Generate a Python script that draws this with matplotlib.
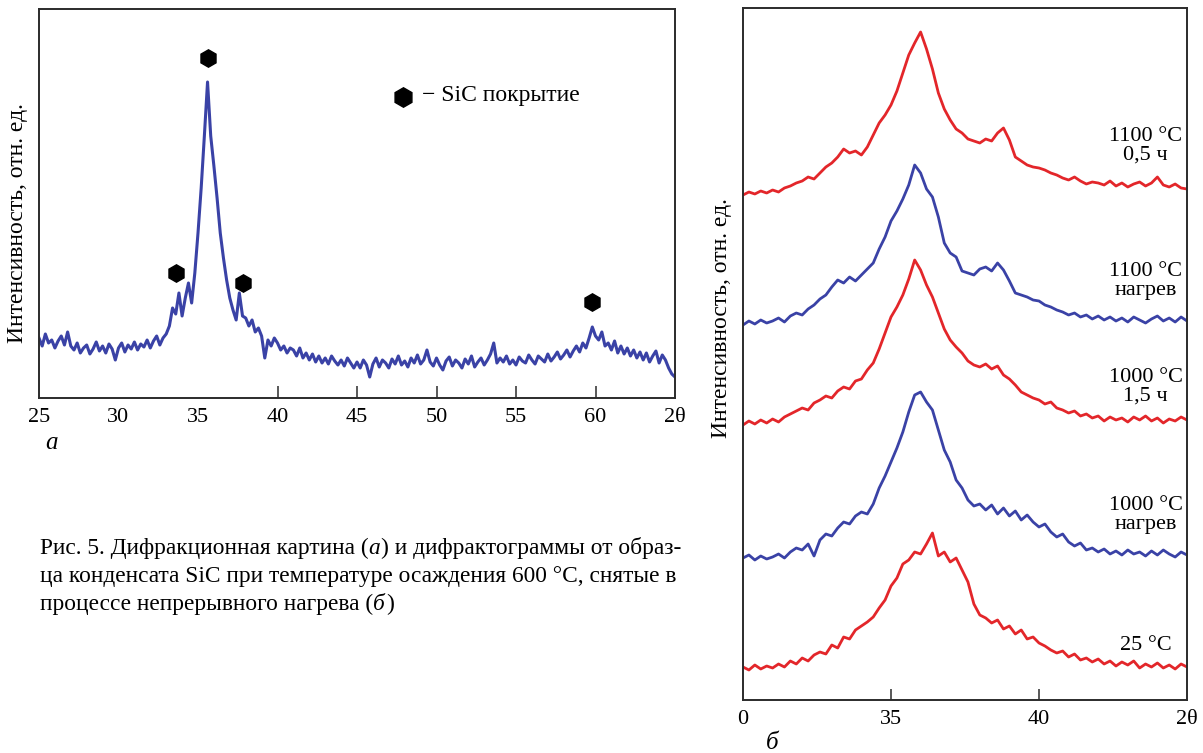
import numpy as np
import matplotlib
matplotlib.use("Agg")
import matplotlib.pyplot as plt

# ---------------- data: panel (a) ----------------
a_x_start, a_x_step = 25.0, 0.2
a_intensity = [
    60, 52, 64, 55, 58,
    50, 57, 62, 53, 66,
    52, 48, 55, 45, 50,
    53, 44, 49, 56, 47,
    52, 45, 54, 49, 38,
    50, 55, 46, 53, 49,
    56, 48, 54, 51, 58,
    50, 57, 62, 53, 60,
    64, 72, 90, 84, 105,
    82, 100, 115, 95, 125,
    165, 210, 262, 316, 262,
    232, 200, 165, 140, 118,
    100, 88, 78, 105, 82,
    80, 72, 78, 66, 70,
    62, 40, 58, 52, 60,
    55, 48, 52, 45, 50,
    48, 42, 50, 40, 45,
    38, 44, 36, 42, 35,
    40, 34, 42, 37, 33,
    38, 32, 40, 35, 30,
    36, 30, 38, 33, 21,
    34, 40, 31, 38, 35,
    30, 39, 34, 42, 33,
    37, 31, 40, 35, 43,
    34, 38, 48, 36, 32,
    40, 33, 28, 37, 41,
    32, 38, 35, 30, 39,
    34, 42, 31, 36, 40,
    33, 38, 44, 55, 35,
    40, 36, 42, 34, 38,
    33, 41, 37, 35, 43,
    38, 34, 42, 39, 36,
    44, 37, 41, 46, 39,
    43, 48, 41, 47, 52,
    46, 55, 50, 60, 71,
    62, 58, 66, 52, 55,
    48, 57, 45, 52, 44,
    50, 42, 48, 40, 46,
    38, 45, 36, 42, 47,
    35, 43, 38, 30, 24,
    21,
]
a_marker_x = [35.6, 33.63, 37.85, 59.8]
a_marker_y = [340, 125, 115, 96]
a_ticks = [25, 30, 35, 40, 45, 50, 55, 60, 65]
a_ticklabels = ["25", "30", "35", "40", "45", "50", "55", "60", "2θ"]
a_legend_text = "− SiC покрытие"

# ---------------- data: panel (б) ----------------
b_x_start, b_x_step = 30.0, 0.2
b_25C = [
    3, 0, 5, 1, 4,
    2, 6, 3, 9, 6,
    12, 9, 15, 18, 16,
    25, 22, 33, 31, 40,
    44, 48, 53, 62, 70,
    84, 92, 106, 110, 118,
    116, 126, 137, 114, 118,
    108, 112, 100, 88, 66,
    55, 52, 47, 50, 41,
    44, 36, 40, 31, 33,
    27, 24, 20, 17, 19,
    13, 16, 10, 12, 8,
    11, 6, 9, 4, 8,
    5, 9, 2, 6, 3,
    7, 2, 5, 1, 6,
    3,
]
b_1000_heat = [
    2, 5, 0, 4, 1,
    3, 6, 2, 8, 12,
    10, 16, 4, 20, 26,
    24, 32, 38, 36, 44,
    48, 46, 56, 72, 84,
    98, 112, 128, 148, 165,
    168, 158, 150, 130, 110,
    98, 80, 72, 60, 54,
    56, 50, 55, 46, 52,
    44, 49, 40, 45, 38,
    33, 36, 28, 23, 26,
    18, 14, 17, 10, 12,
    8, 11, 6, 9, 5,
    10, 6, 8, 4, 9,
    5, 10, 6, 3, 8,
    5,
]
b_1000_15h = [
    0, 4, 1, 5, 2,
    6, 3, 8, 11, 14,
    17, 15, 22, 25, 29,
    27, 34, 38, 36, 44,
    46, 55, 62, 76, 92,
    108, 118, 130, 146, 165,
    155, 140, 128, 112, 96,
    85, 78, 72, 64, 60,
    58, 61, 56, 59, 50,
    46, 40, 33, 30, 27,
    25, 21, 23, 17, 15,
    12, 14, 9, 11, 7,
    9, 4, 8, 5, 7,
    3, 8, 5, 9, 4,
    7, 2, 6, 4, 8,
    5,
]
b_1100_heat = [
    0, 4, 1, 5, 2,
    4, 7, 3, 9, 12,
    10, 16, 20, 26, 30,
    38, 45, 42, 48, 44,
    50, 56, 62, 76, 88,
    104, 114, 126, 140, 160,
    152, 136, 128, 108, 82,
    72, 68, 54, 52, 50,
    56, 58, 54, 62, 55,
    44, 32, 30, 28, 25,
    24, 20, 18, 15, 13,
    10, 12, 8, 10, 6,
    9, 5, 8, 4, 7,
    3, 8, 5, 2, 6,
    9, 4, 7, 3, 8,
    4,
]
b_1100_05h = [
    0, 3, 1, 4, 2,
    5, 3, 7, 9, 12,
    14, 18, 16, 22, 28,
    32, 38, 46, 42, 44,
    40, 48, 60, 72, 80,
    90, 104, 122, 140, 152,
    163, 146, 126, 102, 86,
    75, 66, 62, 56, 54,
    52, 56, 54, 62, 67,
    55, 38, 34, 30, 28,
    27, 25, 22, 20, 17,
    15, 18, 14, 11, 13,
    12, 10, 14, 9, 12,
    8, 11, 13, 9, 12,
    18, 10, 8, 11, 7,
    6,
]
b_series = [b_25C, b_1000_heat, b_1000_15h, b_1100_heat, b_1100_05h]
b_offsets = [30, 140, 275, 375, 505]
b_colors = ["#e3262a", "#3a42a6", "#e3262a", "#3a42a6", "#e3262a"]
b_labels = ["25 °C", "1000 °C\nнагрев", "1000 °C\n1,5 ч", "1100 °C\nнагрев", "1100 °C\n0,5 ч"]
b_label_y = [55, 185, 313, 419, 554]
b_ticks = [30, 35, 40, 45]
b_ticklabels = ["0", "35", "40", "2θ"]

ylabel = "Интенсивность, отн. ед."
# caption lines as (text, italic) segments
caption_lines = [
    [("Рис. 5. Дифракционная картина (", False), ("а", True),
     (") и дифрактограммы от образ-", False)],
    [("ца конденсата SiC при температуре осаждения 600 °C, снятые в", False)],
    [("процессе непрерывного нагрева (", False), ("б", True), (")", False)],
]

SERIF = ["Liberation Serif", "DejaVu Serif"]
plt.rcParams["font.family"] = SERIF

W, H = 1203, 753
fig = plt.figure(figsize=(W / 100, H / 100), dpi=100)
fig.patch.set_facecolor("white")


def frac(l, t, r, b):
    return [l / W, 1 - b / H, (r - l) / W, (b - t) / H]


SPINE = "#2b2b2b"
BLUE_A = "#3a42a6"

# ---------------- panel (a) ----------------
ax = fig.add_axes(frac(39, 9, 675, 398))
xa = a_x_start + a_x_step * np.arange(len(a_intensity))
ax.plot(xa, a_intensity, color=BLUE_A, lw=2.2)
ax.plot(a_marker_x, a_marker_y, linestyle="none", marker="h", ms=12.5,
        color="black")
ax.plot([47.9], [301], linestyle="none", marker="h", ms=14, color="black")
ax.text(49.1, 303, a_legend_text, fontsize=17, va="center", ha="left")
ax.set_xlim(25, 65)
ax.set_ylim(0, 389)
ax.set_yticks([])
ax.set_xticks(a_ticks)
ax.set_xticklabels(a_ticklabels)
ax.tick_params(axis="x", direction="in", length=9, width=1.1, labelsize=16,
               pad=7, color=SPINE)
for t, v in zip(ax.xaxis.get_major_ticks(), a_ticks):
    if v in (25, 30, 35, 65):
        t.tick1line.set_visible(False)
for s in ax.spines.values():
    s.set_color(SPINE)
    s.set_linewidth(1.4)

# ---------------- panel (б) ----------------
bx = fig.add_axes(frac(743, 8, 1187, 700))
xb = b_x_start + b_x_step * np.arange(len(b_25C))
for ys, off, c in zip(b_series, b_offsets, b_colors):
    bx.plot(xb, np.asarray(ys) + off, color=c, lw=2.0)
for lab, ly in zip(b_labels, b_label_y):
    bx.text(43.6, ly, lab, fontsize=16, ha="center", va="center",
            linespacing=0.95)
bx.set_xlim(30, 45)
bx.set_ylim(0, 692)
bx.set_yticks([])
bx.set_xticks(b_ticks)
bx.set_xticklabels(b_ticklabels)
bx.tick_params(axis="x", direction="in", length=8, width=1.1, labelsize=16,
               pad=7, color=SPINE)
for t, v in zip(bx.xaxis.get_major_ticks(), b_ticks):
    if v in (30, 45):
        t.tick1line.set_visible(False)
for s in bx.spines.values():
    s.set_color(SPINE)
    s.set_linewidth(1.4)

# ---------------- texts ----------------
fig.text(18 / W, 1 - 223 / H, ylabel, rotation=90, fontsize=17,
         ha="center", va="center")
fig.text(721 / W, 1 - 318 / H, ylabel, rotation=90, fontsize=17,
         ha="center", va="center")
fig.text(52 / W, 1 - 443 / H, "а", fontsize=18, style="italic",
         ha="center", va="center")
fig.text(772 / W, 1 - 743 / H, "б", fontsize=18, style="italic",
         ha="center", va="center")

# caption, drawn segment by segment so (а) and (б) can be italic
renderer = fig.canvas.get_renderer()
line_y_px = [554, 582, 610]
for segs, ypx in zip(caption_lines, line_y_px):
    xpx = 40.0
    for txt, it in segs:
        t = fig.text(xpx / W, 1 - ypx / H, txt, fontsize=16.8,
                     style="italic" if it else "normal",
                     ha="left", va="baseline")
        bb = t.get_window_extent(renderer=renderer)
        xpx += bb.width + (1.0 if it else 0.0)

fig.savefig("out.png", dpi=100)
